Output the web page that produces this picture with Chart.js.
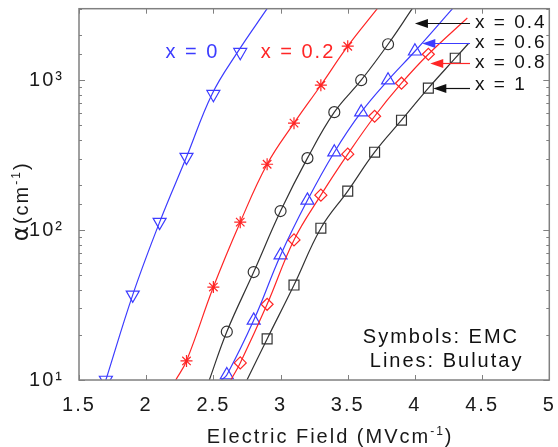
<!DOCTYPE html>
<html>
<head>
<meta charset="utf-8">
<script src="https://cdn.jsdelivr.net/npm/chart.js@4/dist/chart.umd.min.js"></script>
<style>
html, body { margin: 0; padding: 0; background: #fff; }
</style>
</head>
<body>
<canvas id="chartAlpha" width="558" height="447"></canvas>
<script>
// EMC symbols (field in MV/cm, alpha in 1/cm), one pair of lists per composition
var fieldX0  = [1.7, 1.9, 2.1, 2.3, 2.5, 2.7];
var alphaX0  = [10, 37, 113, 307, 807, 1538];
var fieldX02 = [2.3, 2.5, 2.7, 2.9, 3.1, 3.3, 3.5];
var alphaX02 = [13.4, 41.7, 113, 275, 517, 926, 1686];
var fieldX04 = [2.6, 2.8, 3.0, 3.2, 3.4, 3.6, 3.8];
var alphaX04 = [21, 52.5, 134, 302, 612, 1000, 1738];
var fieldX06 = [2.6, 2.8, 3.0, 3.2, 3.4, 3.6, 3.8, 4.0];
var alphaX06 = [10.8, 25, 68, 158, 331, 612, 1000, 1560];
var fieldX08 = [2.7, 2.9, 3.1, 3.3, 3.5, 3.7, 3.9, 4.1];
var alphaX08 = [13, 32, 86, 171, 321, 575, 955, 1490];
var fieldX1  = [2.9, 3.1, 3.3, 3.5, 3.7, 3.9, 4.1, 4.3];
var alphaX1  = [18.8, 43, 103, 182, 331, 541, 885, 1402];

// Bulutay lines
var lineFieldX0  = [1.7, 1.9, 2.1, 2.3, 2.49, 2.68, 2.9];
var lineAlphaX0  = [10, 37, 113, 307, 807, 1538, 3000];
var lineFieldX02 = [2.22, 2.3, 2.5, 2.7, 2.9, 3.1, 3.3, 3.5, 3.72];
var lineAlphaX02 = [10, 13.4, 41.7, 113, 275, 517, 926, 1686, 3000];
var lineFieldX04 = [2.47, 2.6, 2.8, 3.0, 3.2, 3.4, 3.6, 3.8, 3.98];
var lineAlphaX04 = [10, 21, 52.5, 134, 302, 612, 1000, 1738, 3000];
var lineFieldX06 = [2.56, 2.6, 2.8, 3.0, 3.2, 3.4, 3.6, 3.8, 4.0, 4.28];
var lineAlphaX06 = [10, 10.8, 25, 68, 158, 331, 612, 1000, 1560, 3000];
var lineFieldX08 = [2.63, 2.7, 2.9, 3.1, 3.3, 3.5, 3.7, 3.9, 4.1, 4.39];
var lineAlphaX08 = [10, 13, 32, 86, 171, 321, 575, 955, 1490, 2600];
var lineFieldX1  = [2.75, 2.9, 3.1, 3.3, 3.5, 3.7, 3.9, 4.1, 4.3, 4.4];
var lineAlphaX1  = [10, 18.8, 43, 103, 182, 331, 541, 885, 1402, 1765];

var xTickLabels = ['1.5', '2', '2.5', '3', '3.5', '4', '4.5', '5'];
var yTickValues = [10, 100, 1000];
var yTickLabels = ['10\u00b9', '10\u00b2', '10\u00b3'];

var BLUE = '#3c3cff';
var RED = '#ff2626';
var BLACK = '#333333';
var FONT = '"Liberation Sans", Arial, sans-serif';

toPoints = function(xs, ys) {
  return xs.map(function(x, i) { return {x: x, y: ys[i]}; });
}

lineSet = function(xs, ys, color) {
  return {
    data: toPoints(xs, ys),
    showLine: true,
    borderColor: color,
    borderWidth: 1.2,
    pointRadius: 0,
    fill: false,
    tension: 0.4
  };
}

markerSet = function(xs, ys, color, style, radius, rotation) {
  return {
    data: toPoints(xs, ys),
    showLine: false,
    pointStyle: style,
    pointRadius: radius,
    pointRotation: rotation || 0,
    pointBorderColor: color,
    pointBackgroundColor: 'rgba(0,0,0,0)',
    pointBorderWidth: 1.2,
    borderColor: color,
    backgroundColor: 'rgba(0,0,0,0)'
  };
}

// text with a small raised part; parts = [{t, font, dy}]
drawRich = function(ctx, parts, x, y, align) {
  var total = 0;
  parts.forEach(function(p) {
    ctx.font = p.font;
    p.w = ctx.measureText(p.t).width;
    total += p.w;
  });
  var cx = align == 'center' ? x - total / 2 : x;
  ctx.textAlign = 'left';
  ctx.textBaseline = 'alphabetic';
  parts.forEach(function(p) {
    ctx.font = p.font;
    ctx.fillText(p.t, cx, y + (p.dy || 0));
    cx += p.w;
  });
}

var matlabAxes = {
  id: 'matlabAxes',
  beforeDraw: function(chart) {
    chart.ctx.letterSpacing = '2px';
  },
  afterDatasetsDraw: function(chart) {
    var ctx = chart.ctx, a = chart.chartArea;
    var xs = chart.scales.x, ys = chart.scales.y;
    ctx.save();
    ctx.letterSpacing = '2px';

    // box and inward ticks
    ctx.strokeStyle = '#808080';
    ctx.lineWidth = 1.5;
    ctx.strokeRect(a.left, a.top, a.right - a.left, a.bottom - a.top);
    ctx.lineWidth = 1;
    ctx.beginPath();
    xs.ticks.forEach(function(t) {
      var px = Math.round(xs.getPixelForValue(t.value)) + 0.5;
      ctx.moveTo(px, a.bottom); ctx.lineTo(px, a.bottom - 5);
      ctx.moveTo(px, a.top); ctx.lineTo(px, a.top + 5);
    });
    ys.ticks.forEach(function(t) {
      var major = yTickValues.indexOf(t.value) >= 0;
      var len = major ? 6 : 3;
      var py = Math.round(ys.getPixelForValue(t.value)) + 0.5;
      ctx.moveTo(a.left, py); ctx.lineTo(a.left + len, py);
      ctx.moveTo(a.right, py); ctx.lineTo(a.right - len, py);
    });
    ctx.stroke();

    // axis titles
    ctx.fillStyle = '#1a1a1a';
    drawRich(ctx, [
      {t: 'Electric Field (MVcm', font: '20px ' + FONT},
      {t: '-1', font: '12px ' + FONT, dy: -8},
      {t: ')', font: '20px ' + FONT}
    ], (a.left + a.right) / 2 + 16, a.bottom + 63, 'center');

    ctx.save();
    ctx.translate(28, (a.top + a.bottom) / 2 + 7);
    ctx.rotate(-Math.PI / 2);
    drawRich(ctx, [
      {t: '\u03b1', font: '23px "DejaVu Sans", sans-serif'},
      {t: '(cm', font: '20px ' + FONT},
      {t: '-1', font: '12px ' + FONT, dy: -8},
      {t: ')', font: '20px ' + FONT}
    ], 0, 0, 'center');
    ctx.restore();

    // curve labels on the left
    var fx = function(v) { return xs.getPixelForValue(v); };
    var fy = function(v) { return ys.getPixelForValue(v); };
    ctx.fillStyle = BLUE;
    drawRich(ctx, [{t: 'x = 0', font: '20px ' + FONT}], fx(2.143), fy(1402), 'left');
    ctx.fillStyle = RED;
    drawRich(ctx, [{t: 'x = 0.2', font: '20px ' + FONT}], fx(2.852), fy(1402), 'left');

    // labels with arrows on the right
    var arrows = [
      {text: 'x = 0.4', color: '#111111', tip: 4.0,   y: 2399, base: 2222},
      {text: 'x = 0.6', color: BLUE,      tip: 4.055, y: 1765, base: 1634},
      {text: 'x = 0.8', color: RED,       tip: 4.114, y: 1298, base: 1202},
      {text: 'x = 1',   color: '#111111', tip: 4.137, y: 885,  base: 858}
    ];
    arrows.forEach(function(ar) {
      var tail = fx(4.41), tip = fx(ar.tip), py = Math.round(fy(ar.y)) + 0.5;
      ctx.strokeStyle = ar.color;
      ctx.fillStyle = ar.color;
      ctx.lineWidth = 1.2;
      ctx.beginPath();
      ctx.moveTo(tail, py); ctx.lineTo(tip + 10, py);
      ctx.stroke();
      ctx.beginPath();
      ctx.moveTo(tip, py); ctx.lineTo(tip + 13, py - 4.5); ctx.lineTo(tip + 13, py + 4.5);
      ctx.closePath();
      ctx.fill();
      ctx.fillStyle = '#111111';
      drawRich(ctx, [{t: ar.text, font: '19px ' + FONT}], fx(4.447), fy(ar.base), 'left');
    });

    // note in the corner
    ctx.fillStyle = '#111111';
    drawRich(ctx, [{t: 'Symbols: EMC', font: '20px ' + FONT}], fx(3.612), fy(17.6), 'left');
    drawRich(ctx, [{t: 'Lines: Bulutay', font: '20px ' + FONT}], fx(3.664), fy(12.2), 'left');
    ctx.restore();
  }
};

var config = {
  type: 'scatter',
  data: {
    datasets: [
      lineSet(lineFieldX0, lineAlphaX0, BLUE),
      lineSet(lineFieldX02, lineAlphaX02, RED),
      lineSet(lineFieldX04, lineAlphaX04, BLACK),
      lineSet(lineFieldX06, lineAlphaX06, BLUE),
      lineSet(lineFieldX08, lineAlphaX08, RED),
      lineSet(lineFieldX1, lineAlphaX1, BLACK),
      markerSet(fieldX0, alphaX0, BLUE, 'triangle', 7.5, 180),
      markerSet(fieldX02, alphaX02, RED, 'star', 6),
      markerSet(fieldX04, alphaX04, BLACK, 'circle', 5.5),
      markerSet(fieldX06, alphaX06, BLUE, 'triangle', 7.5),
      markerSet(fieldX08, alphaX08, RED, 'rectRot', 6),
      markerSet(fieldX1, alphaX1, BLACK, 'rect', 7)
    ]
  },
  options: {
    responsive: false,
    devicePixelRatio: 1,
    animation: false,
    layout: { padding: { top: 7, right: 5, left: 0, bottom: 0 } },
    plugins: { legend: { display: false }, tooltip: { enabled: false } },
    scales: {
      x: {
        type: 'linear',
        min: 1.5,
        max: 5,
        grid: { display: false },
        border: { display: false },
        ticks: {
          stepSize: 0.5,
          padding: 5,
          color: '#1a1a1a',
          font: { family: FONT, size: 20 },
          callback: function(v, i) { return xTickLabels[i]; }
        },
        afterFit: function(s) {
          s.height = 67;
          s.paddingLeft = 0;
          s.paddingRight = 0;
        }
      },
      y: {
        type: 'logarithmic',
        min: 10,
        max: 3000,
        grid: { display: false },
        border: { display: false },
        ticks: {
          autoSkip: false,
          padding: 7,
          color: '#1a1a1a',
          font: { family: FONT, size: 20 },
          callback: function(v) {
            var i = yTickValues.indexOf(v);
            return i < 0 ? '' : yTickLabels[i];
          }
        },
        afterFit: function(s) {
          s.width = 79;
          s.paddingTop = 0;
          s.paddingBottom = 0;
        }
      }
    }
  },
  plugins: [matlabAxes]
};

window.chartAlpha = new Chart(document.getElementById('chartAlpha').getContext('2d'), config);
</script>
</body>
</html>
